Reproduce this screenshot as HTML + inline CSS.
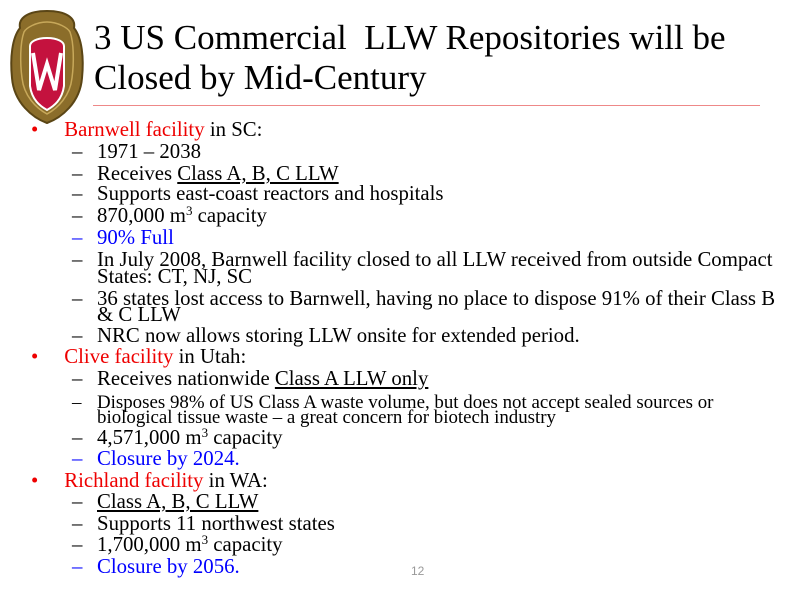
<!DOCTYPE html>
<html><head><meta charset="utf-8"><style>
body{margin:0;width:800px;height:600px;background:#fff;position:relative;overflow:hidden;font-family:"Liberation Serif",serif;color:#000}
.l{position:absolute;font-size:20.8px;line-height:16px;white-space:nowrap}
.b{left:31px;color:#e00}
.b span{color:#000}
.d{left:72px}
.d b{font-weight:normal;display:inline-block;width:25px}
.bl{color:#00f}
.sm{font-size:18.9px}
u{text-decoration:underline}
.t{position:absolute;left:94px;font-size:35px;line-height:40px;white-space:nowrap}
sup{font-size:13px;line-height:0;vertical-align:7px}
</style></head><body>
<svg style="position:absolute;left:8px;top:8px" width="78" height="118" viewBox="0 0 78 118">
<path d="M39 3 C20 3 10 10 12 20 C4 30 2 50 4 70 C6 95 25 110 39 115 C53 110 72 95 74 70 C76 50 74 30 66 20 C68 10 58 3 39 3Z" fill="#8b6d2a" stroke="#5a4515" stroke-width="2"/>
<path d="M39 14 C28 14 18 20 16 24 C12 35 12 55 14 70 C16 88 28 100 39 106 C50 100 62 88 64 70 C66 55 66 35 62 24 C60 20 50 14 39 14Z" fill="none" stroke="#c7a85a" stroke-width="1.5"/>
<path d="M39 30 C28 30 22 34 22 38 L22 78 C24 92 32 98 39 102 C46 98 54 92 56 78 L56 38 C56 34 50 30 39 30Z" fill="#c4123e" stroke="#fff" stroke-width="2"/>
<path d="M25 45 L31 82 L39 56 L47 82 L53 45" fill="none" stroke="#fff" stroke-width="4"/>
</svg>
<div class="t" style="top:18px">3 US Commercial &nbsp;LLW Repositories will be</div>
<div class="t" style="top:58px">Closed by Mid-Century</div>
<div style="position:absolute;left:93px;top:105px;width:667px;height:1px;background:#e88"></div>

<div class="l b" style="top:122px">•&nbsp;&nbsp;&nbsp;&nbsp;&nbsp;Barnwell facility <span>in SC:</span></div>
<div class="l d" style="top:144px"><b>–</b>1971 – 2038</div>
<div class="l d" style="top:166px"><b>–</b>Receives <u>Class A, B, C LLW</u></div>
<div class="l d" style="top:186px"><b>–</b>Supports east-coast reactors and hospitals</div>
<div class="l d" style="top:208px"><b>–</b>870,000 m<sup>3</sup> capacity</div>
<div class="l d bl" style="top:230px"><b>–</b>90% Full</div>
<div class="l d" style="top:252px"><b>–</b>In July 2008, Barnwell facility closed to all LLW received from outside Compact</div>
<div class="l d" style="top:269px"><b></b>States: CT, NJ, SC</div>
<div class="l d" style="top:291px"><b>–</b>36 states lost access to Barnwell, having no place to dispose 91% of their Class B</div>
<div class="l d" style="top:307px"><b></b>&amp; C LLW</div>
<div class="l d" style="top:328px"><b>–</b>NRC now allows storing LLW onsite for extended period.</div>
<div class="l b" style="top:349px">•&nbsp;&nbsp;&nbsp;&nbsp;&nbsp;Clive facility <span>in Utah:</span></div>
<div class="l d" style="top:371px"><b>–</b>Receives nationwide <u>Class A LLW only</u></div>
<div class="l d sm" style="top:395px"><b>–</b>Disposes 98% of US Class A waste volume, but does not accept sealed sources or</div>
<div class="l d sm" style="top:410px"><b></b>biological tissue waste – a great concern for biotech industry</div>
<div class="l d" style="top:430px"><b>–</b>4,571,000 m<sup>3</sup> capacity</div>
<div class="l d bl" style="top:451px"><b>–</b>Closure by 2024.</div>
<div class="l b" style="top:473px">•&nbsp;&nbsp;&nbsp;&nbsp;&nbsp;Richland facility <span>in WA:</span></div>
<div class="l d" style="top:494px"><b>–</b><u>Class A, B, C LLW</u></div>
<div class="l d" style="top:516px"><b>–</b>Supports 11 northwest states</div>
<div class="l d" style="top:537px"><b>–</b>1,700,000 m<sup>3</sup> capacity</div>
<div class="l d bl" style="top:559px"><b>–</b>Closure by 2056.</div>
<div style="position:absolute;left:411px;top:564px;font-size:12px;color:#999;font-family:'Liberation Sans',sans-serif">12</div>
</body></html>
